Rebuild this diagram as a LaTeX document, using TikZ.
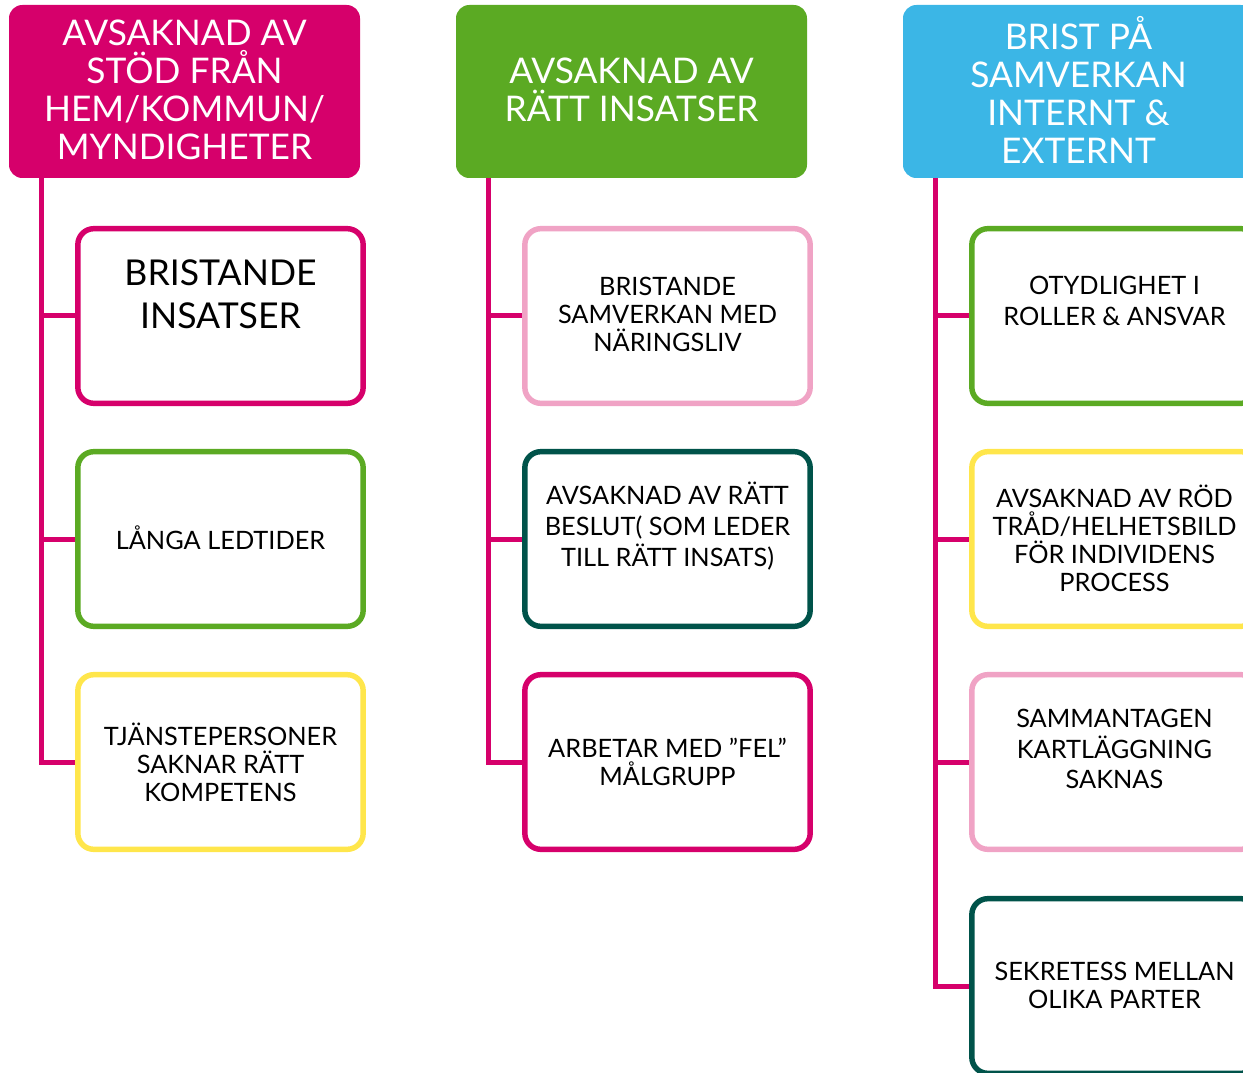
\documentclass[tikz,border=0pt]{standalone}
\usepackage{fontspec}
\setmainfont{Lato}
\usetikzlibrary{calc}
\definecolor{cMag}{HTML}{D6006B}
\definecolor{cGreen}{HTML}{5BAA23}
\definecolor{cBlue}{HTML}{3BB6E6}
\definecolor{cPink}{HTML}{F0A3C5}
\definecolor{cTeal}{HTML}{00534A}
\definecolor{cYellow}{HTML}{FFE64B}
\tikzset{
  head/.style={fill=#1, draw=none, rounded corners=10pt, minimum width=263.25pt,
    minimum height=129.75pt, inner sep=0pt},
  headtxt/.style={text=white, align=center, inner sep=0pt,
    font=\fontsize{26.5}{28.5}\selectfont},
  item/.style={draw=#1, line width=4.1pt, fill=white, rounded corners=12pt,
    minimum width=214pt, minimum height=131pt, inner sep=0pt},
  itemtxt/.style={align=center, inner sep=0pt, font=\fontsize{19}{21}\selectfont},
  itemtxtw/.style={align=center, inner sep=0pt, font=\fontsize{19}{23}\selectfont},
  bigtxt/.style={align=center, inner sep=0pt, font=\fontsize{26.7}{32}\selectfont},
  link/.style={draw=cMag, line width=3.75pt},
}
\begin{document}
\begin{tikzpicture}[x=0.75pt, y=-0.75pt]
\useasboundingbox (0,0) rectangle (1243,1073);
\begin{scope}
\clip (0,0) rectangle (1243,1073);

% column headers
\node[head=cMag]   (h1) at (184.5,91.5) {};
\node[head=cGreen] (h2) at (631.5,91.5) {};
\node[head=cBlue]  (h3) at (1078.5,91.5) {};
\node[headtxt] (ht1) at ($(h1.center)+(0,-1.5)$) {AVSAKNAD AV\\STÖD FRÅN\\HEM/KOMMUN/\\MYNDIGHETER};
\node[headtxt] (ht2) at ($(h2.center)+(0,-1.5)$) {AVSAKNAD AV\\RÄTT INSATSER};
\node[headtxt] (ht3) at ($(h3.center)+(0,-1.5)$) {BRIST PÅ\\SAMVERKAN\\INTERNT \&\\EXTERNT};

% trunk start points below each header
\coordinate (r1) at (41.5,178);
\coordinate (r2) at (488.5,178);
\coordinate (r3) at (935.5,178);

% first column
\node[item=cMag]    (c11) at (220.5,316) {};
\node[item=cGreen]  (c12) at (220.5,539) {};
\node[item=cYellow] (c13) at (220.5,762) {};
% second column
\node[item=cPink]   (c21) at (667.5,316) {};
\node[item=cTeal]   (c22) at (667.5,539) {};
\node[item=cMag]    (c23) at (667.5,762) {};
% third column
\node[item=cGreen]  (c31) at (1114.5,316) {};
\node[item=cYellow] (c32) at (1114.5,539) {};
\node[item=cPink]   (c33) at (1114.5,762) {};
\node[item=cTeal]   (c34) at (1114.5,986) {};

% connectors
\draw[link] (r1) -- (r1 |- c13.west) -- (c13.west);
\draw[link] (r1 |- c11.west) -- (c11.west);
\draw[link] (r1 |- c12.west) -- (c12.west);
\draw[link] (r2) -- (r2 |- c23.west) -- (c23.west);
\draw[link] (r2 |- c21.west) -- (c21.west);
\draw[link] (r2 |- c22.west) -- (c22.west);
\draw[link] (r3) -- (r3 |- c34.west) -- (c34.west);
\draw[link] (r3 |- c31.west) -- (c31.west);
\draw[link] (r3 |- c32.west) -- (c32.west);
\draw[link] (r3 |- c33.west) -- (c33.west);

% item texts
\node[bigtxt]   (t11) at ($(c11.center)+(0,-22)$) {BRISTANDE\\INSATSER};
\node[itemtxt]  (t12) at ($(c12.center)+(0,-1)$) {LÅNGA LEDTIDER};
\node[itemtxt]  (t13) at ($(c13.center)+(0,0)$) {TJÄNSTEPERSONER\\SAKNAR RÄTT\\KOMPETENS};
\node[itemtxt]  (t21) at ($(c21.center)+(0,-2)$) {BRISTANDE\\SAMVERKAN MED\\NÄRINGSLIV};
\node[itemtxtw] (t22) at ($(c22.center)+(0,-13)$) {AVSAKNAD AV RÄTT\\BESLUT( SOM LEDER\\TILL RÄTT INSATS)};
\node[itemtxt]  (t23) at ($(c23.center)+(0,0)$) {ARBETAR MED ”FEL”\\MÅLGRUPP};
\node[itemtxtw] (t31) at ($(c31.center)+(0,-15)$) {OTYDLIGHET I\\ROLLER \& ANSVAR};
\node[itemtxt]  (t32) at ($(c32.center)+(0,-1)$) {AVSAKNAD AV RÖD\\TRÅD/HELHETSBILD\\FÖR INDIVIDENS\\PROCESS};
\node[itemtxtw] (t33) at ($(c33.center)+(0,-13)$) {SAMMANTAGEN\\KARTLÄGGNING\\SAKNAS};
\node[itemtxt]  (t34) at ($(c34.center)+(0,-1)$) {SEKRETESS MELLAN\\OLIKA PARTER};
\end{scope}
\end{tikzpicture}
\end{document}
